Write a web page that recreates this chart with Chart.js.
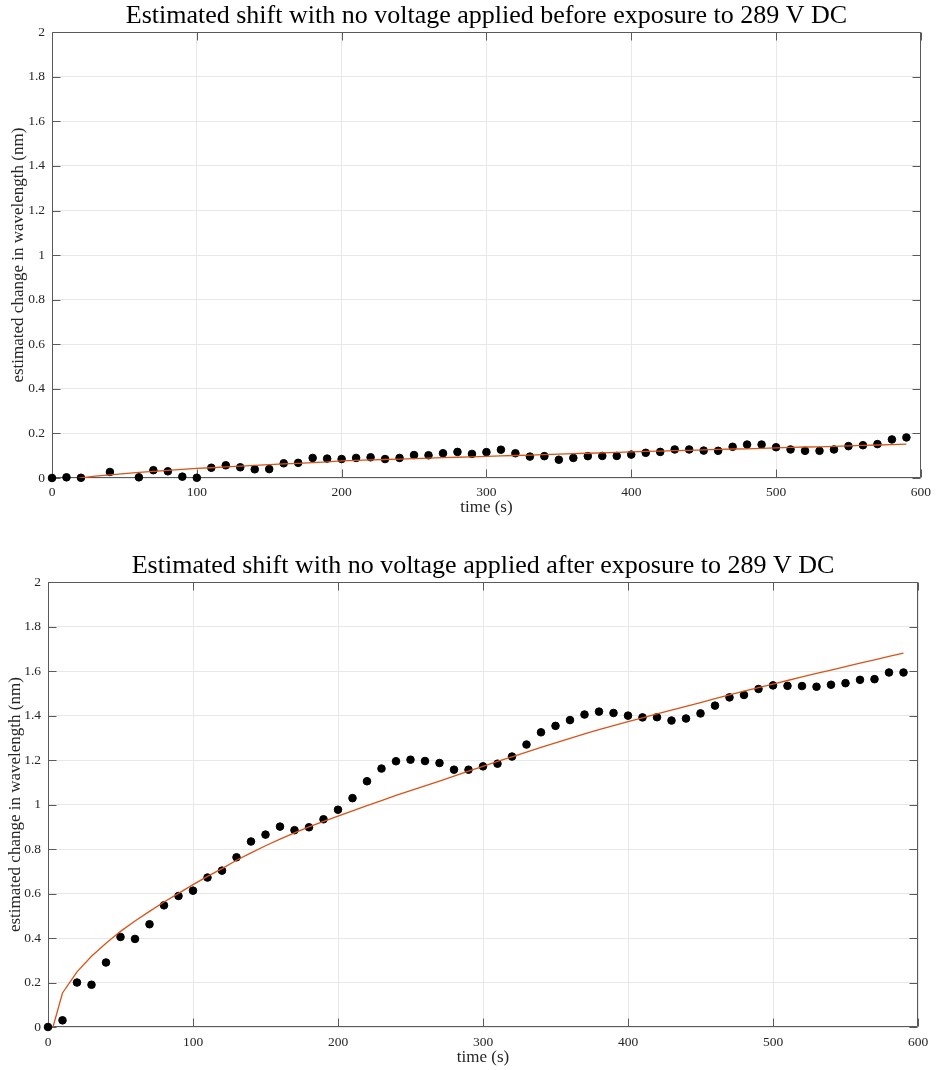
<!DOCTYPE html>
<html>
<head>
<meta charset="utf-8">
<script src="https://cdn.jsdelivr.net/npm/chart.js@4/dist/chart.umd.min.js"></script>
<style>
  body { margin: 0; background: #fff; }
  canvas { position: absolute; left: 0; display: block; }
</style>
</head>
<body>
<canvas id="before" width="937" height="520" style="top:0"></canvas>
<canvas id="after" width="937" height="535" style="top:535px"></canvas>
<script>
// axis ticks
const xTicks = [0, 100, 200, 300, 400, 500, 600];
const yTicks = [0, 0.2, 0.4, 0.6, 0.8, 1, 1.2, 1.4, 1.6, 1.8, 2];

// before exposure (30 s and 50 s missing)
const timeBefore = [0, 10, 20, 40, 60, 70, 80, 90, 100, 110, 120, 130, 140, 150, 160, 170, 180, 190, 200,
  210, 220, 230, 240, 250, 260, 270, 280, 290, 300, 310, 320, 330, 340, 350, 360, 370, 380, 390, 400,
  410, 420, 430, 440, 450, 460, 470, 480, 490, 500, 510, 520, 530, 540, 550, 560, 570, 580, 590];
const shiftBefore = [0, 0.003, 0.001, 0.027, 0.003, 0.035, 0.03, 0.006, 0.001, 0.046, 0.057, 0.048, 0.039, 0.04, 0.066, 0.068, 0.09, 0.087, 0.085,
  0.09, 0.093, 0.085, 0.09, 0.103, 0.102, 0.111, 0.117, 0.108, 0.116, 0.127, 0.111, 0.096, 0.098, 0.082, 0.09, 0.098, 0.099, 0.099, 0.105,
  0.113, 0.117, 0.128, 0.128, 0.123, 0.122, 0.14, 0.15, 0.15, 0.138, 0.128, 0.122, 0.122, 0.128, 0.143, 0.147, 0.152, 0.173, 0.182];

// fitted curves, sampled every 10 s
const fitTime = [0, 10, 20, 30, 40, 50, 60, 70, 80, 90, 100, 110, 120, 130, 140, 150, 160, 170, 180, 190,
  200, 210, 220, 230, 240, 250, 260, 270, 280, 290, 300, 310, 320, 330, 340, 350, 360, 370, 380, 390,
  400, 410, 420, 430, 440, 450, 460, 470, 480, 490, 500, 510, 520, 530, 540, 550, 560, 570, 580, 590];
const fitBefore = [-0.034, -0.01, 0, 0.008, 0.014, 0.02, 0.025, 0.03, 0.034, 0.039, 0.043, 0.046, 0.05, 0.053, 0.057, 0.06, 0.063, 0.066, 0.069, 0.072,
  0.077, 0.079, 0.081, 0.083, 0.085, 0.087, 0.089, 0.091, 0.093, 0.095, 0.097, 0.099, 0.101, 0.103, 0.105, 0.107, 0.109, 0.111, 0.113, 0.115,
  0.117, 0.119, 0.121, 0.123, 0.124, 0.126, 0.128, 0.13, 0.131, 0.133, 0.135, 0.137, 0.139, 0.14, 0.142, 0.144, 0.146, 0.148, 0.15, 0.152];

// after exposure
const timeAfter = fitTime;
const shiftAfter = [0, 0.03, 0.2, 0.19, 0.29, 0.405, 0.396, 0.462, 0.547, 0.589, 0.613, 0.672, 0.703, 0.763, 0.834, 0.865, 0.901, 0.885, 0.898, 0.934,
  0.977, 1.029, 1.105, 1.162, 1.195, 1.202, 1.196, 1.187, 1.157, 1.157, 1.172, 1.184, 1.216, 1.27, 1.325, 1.354, 1.38, 1.405, 1.418, 1.412,
  1.4, 1.392, 1.393, 1.378, 1.387, 1.41, 1.445, 1.482, 1.493, 1.52, 1.536, 1.534, 1.533, 1.53, 1.539, 1.546, 1.561, 1.564, 1.594, 1.594];
const fitAfter = [-0.08, 0.153, 0.248, 0.318, 0.377, 0.43, 0.477, 0.52, 0.562, 0.601, 0.64, 0.677, 0.712, 0.75, 0.783, 0.815, 0.845, 0.873, 0.9, 0.925,
  0.948, 0.972, 0.995, 1.018, 1.041, 1.063, 1.084, 1.106, 1.128, 1.15, 1.172, 1.194, 1.215, 1.236, 1.257, 1.278, 1.298, 1.318, 1.337, 1.355,
  1.373, 1.39, 1.408, 1.425, 1.442, 1.459, 1.476, 1.493, 1.51, 1.526, 1.542, 1.558, 1.574, 1.59, 1.605, 1.62, 1.636, 1.651, 1.666, 1.681];

const serif = "'Liberation Serif', 'Times New Roman', serif";
const textColor = "#262626";

function pts(xs, ys) {
  return xs.map((x, i) => ({ x, y: ys[i] }));
}

// MATLAB-like box with inward ticks
const boxPlugin = {
  id: "box",
  beforeDatasetsDraw(chart) {
    const { ctx, chartArea: a, scales: { x, y } } = chart;
    const l = Math.round(a.left) + 0.5, r = Math.round(a.right) - 0.5;
    const t = Math.round(a.top) + 0.5, b = Math.round(a.bottom) - 0.5;
    ctx.save();
    ctx.strokeStyle = "#5a5a5a";
    ctx.lineWidth = 1;
    ctx.beginPath();
    ctx.rect(l, t, r - l, b - t);
    xTicks.forEach(v => {
      const px = Math.round(x.getPixelForValue(v)) + 0.5;
      ctx.moveTo(px, b); ctx.lineTo(px, b - 8);
      ctx.moveTo(px, t); ctx.lineTo(px, t + 8);
    });
    yTicks.forEach(v => {
      const py = Math.round(y.getPixelForValue(v)) + 0.5;
      ctx.moveTo(l, py); ctx.lineTo(l + 8, py);
      ctx.moveTo(r, py); ctx.lineTo(r - 8, py);
    });
    ctx.stroke();
    ctx.restore();
  }
};

function makeChart(id, title, times, shifts, fit, geo) {
  new Chart(document.getElementById(id), {
    type: "scatter",
    data: {
      datasets: [
        {
          data: pts(times, shifts),
          backgroundColor: "#000",
          borderColor: "#000",
          pointRadius: 3.8,
          pointHoverRadius: 3.8,
          clip: false,
          order: 2,
        },
        {
          type: "line",
          data: pts(fitTime, fit),
          borderColor: "#D95319",
          borderWidth: 1.3,
          pointRadius: 0,
          fill: false,
          tension: 0,
          order: 1,
        },
      ],
    },
    options: {
      responsive: false,
      animation: false,
      devicePixelRatio: 1,
      layout: { padding: { left: 0, right: geo.right, top: 0, bottom: 0 } },
      plugins: {
        legend: { display: false },
        tooltip: { enabled: false },
        title: {
          display: true,
          fullSize: false,
          text: title,
          color: "#000",
          font: { family: serif, size: 26, weight: "normal" },
          padding: { top: geo.titleTop, bottom: geo.titleBottom },
        },
      },
      scales: {
        x: {
          type: "linear",
          min: 0,
          max: 600,
          afterBuildTicks: s => { s.ticks = xTicks.map(v => ({ value: v })); },
          afterFit: s => { s.height = geo.xHeight; },
          grid: { color: "#e8e8e8", drawTicks: false },
          border: { display: false },
          ticks: { color: textColor, font: { family: serif, size: 13.5 }, padding: geo.xPad, maxRotation: 0 },
          title: {
            display: true,
            text: "time (s)",
            color: textColor,
            font: { family: serif, size: 17 },
            padding: { top: 0, bottom: 2 },
          },
        },
        y: {
          type: "linear",
          min: 0,
          max: 2,
          afterBuildTicks: s => { s.ticks = yTicks.map(v => ({ value: v })); },
          afterFit: s => { s.width = geo.yWidth; },
          grid: { color: "#e8e8e8", drawTicks: false },
          border: { display: false },
          ticks: { color: textColor, font: { family: serif, size: 13.5 }, padding: geo.yPad, callback: v => String(v) },
          title: {
            display: true,
            text: "estimated change in wavelength (nm)",
            color: textColor,
            font: { family: serif, size: 17 },
            padding: { top: geo.yTitlePad, bottom: 0 },
          },
        },
      },
    },
    plugins: [boxPlugin],
  });
}

makeChart("before", "Estimated shift with no voltage applied before exposure to 289 V DC",
  timeBefore, shiftBefore, fitBefore,
  { right: 15, titleTop: 1, titleBottom: 0, xHeight: 42, xPad: 6, yWidth: 52, yPad: 7, yTitlePad: 8 });

makeChart("after", "Estimated shift with no voltage applied after exposure to 289 V DC",
  timeAfter, shiftAfter, fitAfter,
  { right: 19, titleTop: 16, titleBottom: 0, xHeight: 43, xPad: 7, yWidth: 48, yPad: 7, yTitlePad: 5 });
</script>
</body>
</html>
